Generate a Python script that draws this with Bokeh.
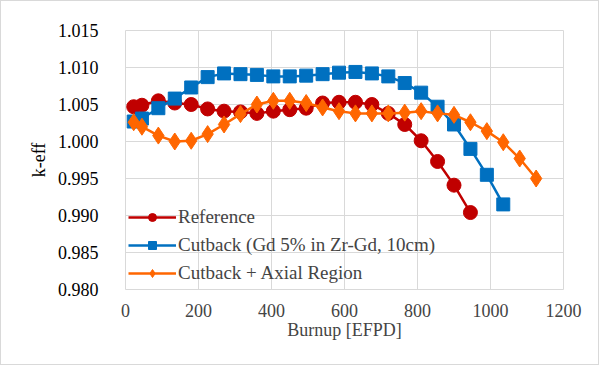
from bokeh.plotting import figure
from bokeh.models import Range1d, FixedTicker, Legend, LegendItem, CustomJSTickFormatter
from bokeh.embed import file_html
from bokeh.resources import INLINE

ref_x = [22.5, 45, 90, 135, 180, 225, 270, 315, 360, 405, 450, 495, 540, 585,
         630, 675, 720, 765, 810, 855, 900, 945]
ref_y = [1.0047, 1.0049, 1.0055, 1.0052, 1.0050, 1.0044, 1.0041, 1.0040, 1.0038,
         1.0041, 1.0043, 1.0045, 1.0052, 1.0053, 1.0053, 1.0050, 1.0038, 1.0023,
         1.0001, 0.9973, 0.9941, 0.9904]

cut_x = [22.5, 45, 90, 135, 180, 225, 270, 315, 360, 405, 450, 495, 540, 585,
         630, 675, 720, 765, 810, 855, 900, 945, 990, 1035]
cut_y = [1.0027, 1.0031, 1.0045, 1.0058, 1.0073, 1.0087, 1.0092, 1.0091, 1.0090,
         1.0088, 1.0088, 1.0089, 1.0091, 1.0093, 1.0094, 1.0092, 1.0088, 1.0079,
         1.0066, 1.0047, 1.0023, 0.9990, 0.9955, 0.9915]

ax_x = [22.5, 45, 90, 135, 180, 225, 270, 315, 360, 405, 450, 495, 540, 585,
        630, 675, 720, 765, 810, 855, 900, 945, 990, 1035, 1080, 1125]
ax_y = [1.0026, 1.0020, 1.0008, 1.0000, 1.0001, 1.0010, 1.0023, 1.0037, 1.0050,
        1.0055, 1.0055, 1.0052, 1.0046, 1.0041, 1.0038, 1.0038, 1.0038, 1.0039,
        1.0041, 1.0038, 1.0036, 1.0026, 1.0014, 0.9999, 0.9977, 0.9950]

x_ticks = [0, 200, 400, 600, 800, 1000, 1200]
y_ticks = [0.980, 0.985, 0.990, 0.995, 1.000, 1.005, 1.010, 1.015]

FONT = "Liberation Serif"
GRID = "#d9d9d9"

p = figure(width=599, height=365, output_backend="svg", toolbar_location=None,
           x_range=Range1d(0, 1200), y_range=Range1d(0.980, 1.015),
           min_border_left=124, min_border_right=37, min_border_top=29,
           min_border_bottom=77)
p.styles = {"border": "1px solid #d9d9d9", "box-sizing": "border-box"}

p.outline_line_color = GRID
p.background_fill_color = "white"
p.border_fill_color = "white"

p.xaxis.axis_line_color = None
p.yaxis.axis_line_color = None
p.xaxis.major_tick_line_color = None
p.yaxis.major_tick_line_color = None
p.xaxis.minor_tick_line_color = None
p.yaxis.minor_tick_line_color = None

p.xaxis.major_label_text_font = FONT
p.xaxis.major_label_text_font_size = "18px"
p.yaxis.major_label_text_font = FONT
p.yaxis.major_label_text_font_size = "18px"
p.yaxis.major_label_text_color = "#000000"
p.xaxis.axis_label_text_font = FONT
p.xaxis.axis_label_text_font_size = "18px"
p.xaxis.axis_label_text_font_style = "normal"
p.yaxis.axis_label_text_font = FONT
p.yaxis.axis_label_text_font_size = "18px"
p.yaxis.axis_label_text_font_style = "normal"
p.yaxis.axis_label_text_color = "#000000"

p.xaxis.ticker = FixedTicker(ticks=x_ticks)
p.yaxis.ticker = FixedTicker(ticks=y_ticks)
p.yaxis.formatter = CustomJSTickFormatter(code="return tick.toFixed(3);")
p.xaxis.major_label_standoff = 8
p.yaxis.major_label_standoff = 21
p.xaxis.axis_label = "Burnup [EFPD]"
p.yaxis.axis_label = "k-eff"
p.xaxis.axis_label_standoff = 0
p.yaxis.axis_label_standoff = 6

p.xgrid.grid_line_color = GRID
p.ygrid.grid_line_color = GRID

RED = "#C00000"
BLUE = "#0070C0"
ORANGE = "#FF6600"

r1l = p.line(ref_x, ref_y, line_color=RED, line_width=2.5)
r1m = p.scatter(ref_x, ref_y, marker="circle", size=14, fill_color=RED, line_color=RED)
r2l = p.line(cut_x, cut_y, line_color=BLUE, line_width=2.5)
r2m = p.scatter(cut_x, cut_y, marker="square", size=13, fill_color=BLUE, line_color=BLUE)
r3l = p.line(ax_x, ax_y, line_color=ORANGE, line_width=2.5)
r3m = p.scatter(ax_x, ax_y, marker="diamond", size=17, fill_color=ORANGE, line_color=ORANGE)

legend = Legend(items=[
    LegendItem(label="Reference", renderers=[r1l, r1m]),
    LegendItem(label="Cutback (Gd 5% in Zr-Gd, 10cm)", renderers=[r2l, r2m]),
    LegendItem(label="Cutback + Axial Region", renderers=[r3l, r3m]),
], location=(3, 5))
legend.border_line_color = None
legend.background_fill_alpha = 0
legend.label_text_font = FONT
legend.label_text_font_size = "19px"
legend.glyph_width = 48
legend.glyph_height = 20
legend.label_height = 20
legend.spacing = 6
legend.padding = 0
legend.margin = 0
legend.label_standoff = 2
p.add_layout(legend, "center")

open("out.html", "w").write(file_html(p, INLINE))
